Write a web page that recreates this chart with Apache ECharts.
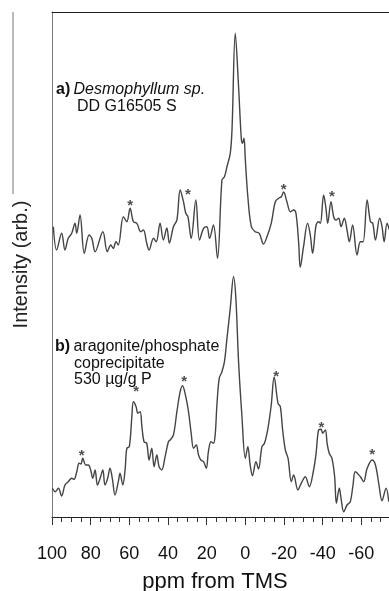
<!DOCTYPE html>
<html>
<head>
<meta charset="utf-8">
<script src="https://cdn.jsdelivr.net/npm/echarts@6/dist/echarts.min.js"></script>
<style>
html,body{margin:0;padding:0;background:#fff;}
#chart{width:389px;height:591px;}
</style>
</head>
<body>
<div id="chart"></div>
<script>
// x values in ppm from TMS, intensities in arbitrary units
const xTicks = [100, 80, 60, 40, 20, 0, -20, -40, -60];

const topPpm = [
  99.3, 97.6, 95.0, 93.3, 91.6, 89.8, 88.1, 87.2, 85.5, 83.3,
  80.8, 79.4, 77.7, 73.7, 71.4, 69.6, 68.3, 66.9, 65.7, 63.1,
  61.3, 59.6, 57.9, 56.1, 54.1, 52.7, 51.0, 49.8, 47.5, 46.1,
  44.1, 42.4, 40.6, 39.3, 37.2, 35.4, 33.7, 32.0, 30.8, 29.7,
  28.0, 25.6, 23.7, 21.6, 19.9, 18.5, 16.5, 14.4, 12.1, 10.8,
  9.5, 7.8, 6.9, 5.2, 3.5, 2.1, 1.5, 0.7, 0.0, -1.3,
  -3.1, -5.1, -7.2, -9.4, -11.2, -13.4, -15.5, -17.2, -18.6, -19.8,
  -21.5, -23.3, -25.0, -26.2, -27.6, -28.4, -30.1, -32.2, -33.6, -34.8,
  -36.6, -37.9, -38.8, -40.5, -41.7, -42.6, -44.3, -45.7, -46.9, -48.3,
  -49.5, -51.2, -52.6, -53.8, -55.5, -57.8, -59.5, -60.9, -63.0, -64.7,
  -65.9, -67.3, -69.5, -70.7, -71.8, -73.3, -74.5
];
const topVal = [
  18.3, -5, 11.7, -5, 6.7, 11.7, 21.7, 11.7, 30, -8.3,
  10, 6.7, -6.7, 13.3, -6.7, 0, -3.3, 3.3, 0, 28.3,
  23.3, 36.7, 23.3, 21.7, 13.3, 15, 1.7, -5, 6.7, 3.3,
  21.7, 5, 17, 2, 18.3, 25, 55, 43.3, 31.7, 28.3,
  6.7, 45, 5, 16.7, 18.3, 6.7, 20, -13.3, 65, 68.3,
  78.3, 91.7, 115, 211.7, 158.3, 106.7, 101.7, 106.7, 85, 48.3,
  18.3, 13.3, 11.7, 1, 8.3, 21.7, 43.3, 46.7, 48.3, 53,
  43.3, 33.3, 35, 31.7, 1.7, -22.3, -1.7, 21.7, 10, -8.3,
  20, 23.3, 21.7, 50, 36.7, 21.7, 43.3, 28.3, 25, 26.7,
  18.3, 26.7, 15, 3.3, 20, -10, 3.3, 3.3, 45, 23.3,
  21.7, 5, 26.7, 18.3, 3.3, 21.7, 15
];

const botPpm = [
  99.8, 98.4, 96.7, 95.0, 93.3, 91.6, 89.8, 88.6, 87.2, 86.0,
  85.0, 84.1, 82.5, 81.2, 80.0, 78.9, 77.7, 76.5, 75.1, 73.7,
  72.6, 71.2, 70.0, 68.8, 67.4, 65.7, 64.8, 63.4, 62.2, 61.3,
  60.0, 58.7, 57.9, 56.5, 55.6, 54.4, 53.5, 52.4, 51.0, 49.8,
  48.4, 47.2, 45.8, 44.6, 43.2, 41.5, 39.8, 38.9, 37.2, 35.4,
  33.7, 32.5, 30.8, 29.4, 28.0, 26.8, 25.4, 24.2, 23.0, 21.6,
  20.2, 19.1, 17.8, 16.5, 15.6, 14.7, 13.5, 12.1, 10.8, 9.5,
  7.8, 6.1, 4.9, 3.5, 1.8, 0.0, -1.3, -2.5, -3.7, -5.5,
  -6.8, -8.6, -9.9, -11.7, -13.4, -14.9, -16.9, -18.1, -19.3, -20.7,
  -22.1, -23.8, -25.0, -27.2, -28.9, -31.0, -33.1, -35.3, -36.6, -37.9,
  -39.2, -40.0, -41.4, -42.3, -43.4, -44.8, -46.2, -47.1, -48.6, -49.5,
  -50.9, -52.6, -54.3, -55.7, -56.9, -59.5, -61.2, -63.0, -65.6, -67.3,
  -69.0, -70.7, -72.8, -74.2
];
const botVal = [
  28.7, 25.3, 28.7, 21, 32, 35.3, 38.7, 37.7, 45.3, 53.7,
  53, 58.7, 52, 52, 47, 38.7, 47, 32, 38.7, 47,
  32, 38.7, 48.7, 38.7, 22, 35.3, 43.7, 32, 47, 68.7,
  70.3, 100.3, 115.3, 110.3, 103.7, 105.3, 90.3, 75.3, 73.7, 57,
  68.7, 50.3, 62, 50.3, 47, 60.3, 75.3, 77, 82, 105.3,
  125.3, 131.3, 120.3, 105.3, 83.7, 68.7, 72, 62, 57, 55.3,
  48.7, 65.3, 75.3, 73.7, 82, 112, 138.7, 145.3, 155.3, 178.7,
  208.7, 240.3, 218.7, 155.3, 102, 58.7, 70.3, 52, 41.3, 55.3,
  48, 70.3, 73.7, 88.7, 112, 140, 113.7, 110.3, 87, 67,
  58.7, 35.3, 42, 27, 33.7, 40.3, 30.3, 47, 63.7, 87,
  87.7, 83.7, 87, 73.7, 63.7, 58.7, 40.3, 13.7, 28.7, 18.7,
  5.3, 12, 15.3, 32, 45.3, 40.3, 35.3, 48.7, 57, 52,
  33.7, 16.3, 28.7, 15.3
];

// spinning side band markers (*)
const topStarPpm = [59.6, 29.7, -19.8, -44.8];
const topStarVal = [43, 54.3, 59, 52.3];
const botStarPpm = [84.6, 56.5, 31.6, -16.0, -39.3, -65.6];
const botStarVal = [65.3, 128.7, 139.3, 143.7, 93, 66.3];

// vertical stacking offset of the upper trace
const TOP_OFFSET = 272;

function zip(xs, ys, off) { return xs.map((x, i) => [x, ys[i] + off]); }

const FONT = "'Liberation Sans', Arial, Helvetica, sans-serif";
const chart = echarts.init(document.getElementById('chart'), null, {renderer: 'canvas'});

const starSeries = (xs, ys, off) => ({
  type: 'scatter',
  data: zip(xs, ys, off),
  symbol: 'circle',
  symbolSize: 1,
  itemStyle: {color: 'rgba(0,0,0,0)'},
  silent: true,
  label: {
    show: true, position: 'inside', formatter: '*',
    fontFamily: FONT, fontSize: 15, fontWeight: 'bold', color: '#222',
    offset: [0, 4]
  },
  z: 5
});

chart.setOption({
  animation: false,
  backgroundColor: '#fff',
  grid: {left: 52, top: 12, width: 348, height: 505, containLabel: false, outerBoundsMode: 'none'},
  xAxis: [{
    type: 'value', min: -80, max: 100, interval: 20, inverse: true,
    axisLine: {show: true, onZero: false, lineStyle: {color: '#222', width: 1}},
    axisTick: {show: true, length: 8, inside: false, lineStyle: {color: '#333'}},
    minorTick: {show: true, splitNumber: 4, length: 5, lineStyle: {color: '#333'}},
    splitLine: {show: false},
    axisLabel: {
      color: '#111', fontFamily: FONT, fontSize: 18, margin: 28,
      formatter: v => (xTicks.indexOf(v) >= 0 ? String(v) : '')
    },
    name: 'ppm from TMS', nameLocation: 'middle', nameGap: 54,
    nameTextStyle: {color: '#111', fontFamily: FONT, fontSize: 22, padding: [0, 22, 0, 0]}
  }, {
    type: 'value', min: -80, max: 100, inverse: true, position: 'top',
    axisLine: {show: true, onZero: false, lineStyle: {color: '#222', width: 1}},
    axisTick: {show: false}, axisLabel: {show: false}, splitLine: {show: false}
  }],
  yAxis: {
    type: 'value', min: 0, max: 505, position: 'left',
    axisLine: {show: true, onZero: false, lineStyle: {color: '#777', width: 1}},
    axisTick: {show: false}, axisLabel: {show: false}, splitLine: {show: false},
    name: 'Intensity (arb.)', nameLocation: 'middle', nameGap: 21,
    nameTextStyle: {color: '#222', fontFamily: FONT, fontSize: 20}
  },
  graphic: [
    {type: 'line', shape: {x1: 13, y1: 12, x2: 13, y2: 194}, style: {stroke: '#777', lineWidth: 1}},
    {type: 'text', left: 56, top: 82, style: {
      text: '{b|a)} {i|Desmophyllum sp.}',
      rich: {
        b: {fontFamily: FONT, fontSize: 16, fontWeight: 'bold', fill: '#111'},
        i: {fontFamily: FONT, fontSize: 16, fontStyle: 'italic', fill: '#111'}
      }
    }},
    {type: 'text', left: 77, top: 99, style: {text: 'DD G16505 S', fontFamily: FONT, fontSize: 16, fill: '#111'}},
    {type: 'text', left: 55, top: 339, style: {
      text: '{b|b)} {n|aragonite/phosphate}',
      rich: {
        b: {fontFamily: FONT, fontSize: 16, fontWeight: 'bold', fill: '#111'},
        n: {fontFamily: FONT, fontSize: 16, fill: '#111'}
      }
    }},
    {type: 'text', left: 74, top: 356, style: {text: 'coprecipitate', fontFamily: FONT, fontSize: 16, fill: '#111'}},
    {type: 'text', left: 74, top: 372, style: {text: '530 µg/g P', fontFamily: FONT, fontSize: 16, fill: '#111'}}
  ],
  series: [
    {
      type: 'line', data: zip(topPpm, topVal, TOP_OFFSET), smooth: 0.35,
      showSymbol: false, lineStyle: {color: '#444', width: 1.4}, z: 3
    },
    {
      type: 'line', data: zip(botPpm, botVal, 0), smooth: 0.35,
      showSymbol: false, lineStyle: {color: '#444', width: 1.4}, z: 3
    },
    starSeries(topStarPpm, topStarVal, TOP_OFFSET),
    starSeries(botStarPpm, botStarVal, 0)
  ]
});
</script>
</body>
</html>
